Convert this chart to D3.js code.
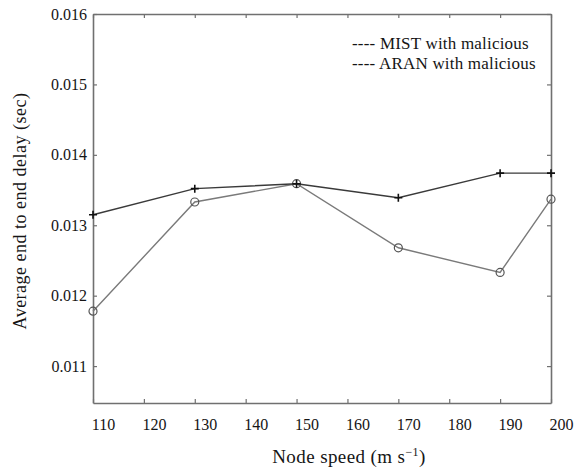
<!DOCTYPE html>
<html>
<head>
<meta charset="utf-8">
<script src="https://cdn.jsdelivr.net/npm/d3@7"></script>
<style>
  body { margin: 0; background: #fff; }
</style>
</head>
<body>
<script>
const speeds = [110, 130, 150, 170, 190, 200];
const mistDelay = [0.01178, 0.01333, 0.01359, 0.01268, 0.01233, 0.01337];
const aranDelay = [0.01315, 0.01352, 0.01359, 0.01339, 0.01374, 0.01374];
const xTicks = [110, 120, 130, 140, 150, 160, 170, 180, 190, 200];
const yTicks = [0.011, 0.012, 0.013, 0.014, 0.015, 0.016];
const legendLabels = ["---- MIST with malicious", "---- ARAN with malicious"];

const serif = "'Liberation Serif', 'DejaVu Serif', serif";

const margin = { top: 14, right: 32, bottom: 68, left: 93 };
const W = 583, H = 471;
const width = W - margin.left - margin.right;
const height = H - margin.top - margin.bottom;

const svg = d3.select("body").append("svg")
    .attr("width", W)
    .attr("height", H)
  .append("g")
    .attr("transform", "translate(" + margin.left + "," + margin.top + ")");

const x = d3.scaleLinear().domain([110, 200]).range([0, width]);
const y = d3.scaleLinear().domain([0.010476, 0.016]).range([height, 0]);

const axisColor = "#707070";

// bottom axis
const xAxisG = svg.append("g")
    .attr("transform", "translate(0," + height + ")")
    .call(d3.axisBottom(x).tickValues(xTicks).tickSize(-4).tickSizeOuter(0).tickPadding(16).tickFormat(d3.format("d")));
xAxisG.selectAll("text").attr("dx", 10).style("font-size", "16px");

// top axis (ticks only)
svg.append("g")
    .call(d3.axisTop(x).tickValues(xTicks).tickSize(-4).tickSizeOuter(0).tickFormat(""));

// left axis
const yAxisG = svg.append("g")
    .call(d3.axisLeft(y).tickValues(yTicks).tickSize(-4).tickSizeOuter(0).tickPadding(6).tickFormat(d3.format(".3f")));
yAxisG.selectAll("text").style("font-size", "16px");

// right axis (ticks only)
svg.append("g")
    .attr("transform", "translate(" + width + ",0)")
    .call(d3.axisRight(y).tickValues(yTicks).tickSize(-4).tickSizeOuter(0).tickFormat(""));

svg.selectAll(".domain").attr("stroke", axisColor).attr("stroke-width", 1.6);
svg.selectAll(".tick line").attr("stroke", axisColor).attr("stroke-width", 1.2);

const line = d3.line()
    .x((d, i) => x(speeds[i]))
    .y(d => y(d));

// MIST: circles, lighter line
svg.append("path")
    .datum(mistDelay)
    .attr("fill", "none")
    .attr("stroke", "#7a7a7a")
    .attr("stroke-width", 1.4)
    .attr("d", line);

svg.selectAll(".mist")
    .data(mistDelay)
    .join("circle")
    .attr("class", "mist")
    .attr("cx", (d, i) => x(speeds[i]))
    .attr("cy", d => y(d))
    .attr("r", 4)
    .attr("fill", "none")
    .attr("stroke", "#555")
    .attr("stroke-width", 1.2);

// ARAN: plus markers, darker line
svg.append("path")
    .datum(aranDelay)
    .attr("fill", "none")
    .attr("stroke", "#3a3a3a")
    .attr("stroke-width", 1.4)
    .attr("d", line);

svg.selectAll(".aran")
    .data(aranDelay)
    .join("path")
    .attr("class", "aran")
    .attr("transform", (d, i) => "translate(" + x(speeds[i]) + "," + y(d) + ")")
    .attr("d", "M-4,0H4M0,-4V4")
    .attr("stroke", "#111")
    .attr("stroke-width", 1.6);

// legend
svg.selectAll(".legend")
    .data(legendLabels)
    .join("text")
    .attr("class", "legend")
    .attr("x", 259)
    .attr("y", (d, i) => 35 + i * 20)
    .style("font-size", "17px")
    .style("letter-spacing", "0.2px")
    .text(d => d);

// axis titles
svg.append("text")
    .attr("x", width / 2 + 27)
    .attr("y", height + 60)
    .attr("text-anchor", "middle")
    .style("font-size", "19px")
    .style("letter-spacing", "0.4px")
    .html("Node speed (m s<tspan dy='-7' font-size='12px'>\u22121</tspan><tspan dy='7'>)</tspan>");

svg.append("text")
    .attr("transform", "translate(" + (-67) + "," + (211 - margin.top) + ") rotate(-90)")
    .attr("text-anchor", "middle")
    .style("font-size", "18px")
    .style("letter-spacing", "0.5px")
    .text("Average end to end delay (sec)");

d3.selectAll("text").style("font-family", serif).style("fill", "#151515");
d3.selectAll("g").attr("font-family", null);
</script>
</body>
</html>
